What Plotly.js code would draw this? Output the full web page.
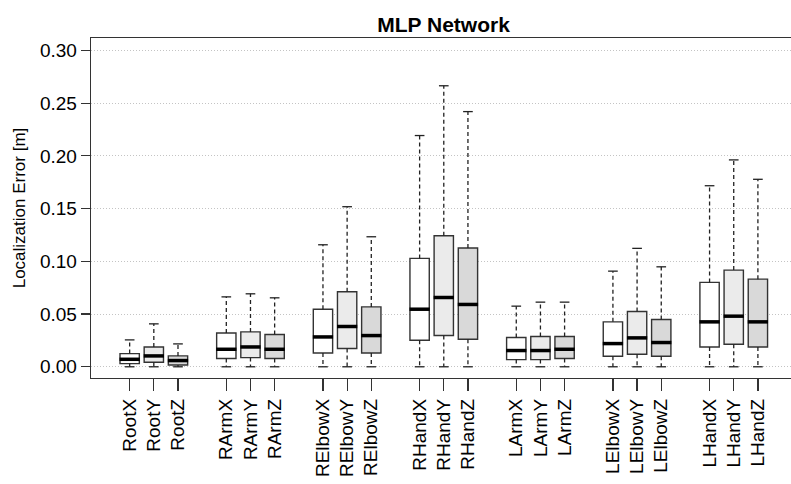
<!DOCTYPE html>
<html>
<head>
<meta charset="utf-8">
<script src="https://cdn.plot.ly/plotly-3.0.1.min.js"></script>
<style>html,body{margin:0;padding:0;background:#fff}</style>
</head>
<body>
<div id="chart" style="width:791px;height:484px"></div>
<script>
// ---- data ----
const categories = ['RootX','RootY','RootZ','RArmX','RArmY','RArmZ','RElbowX','RElbowY','RElbowZ',
  'RHandX','RHandY','RHandZ','LArmX','LArmY','LArmZ','LElbowX','LElbowY','LElbowZ','LHandX','LHandY','LHandZ'];
const whiskerLow = [0,0,0, 0,0,0, 0,0,0, 0,0,0, 0,0,0, 0,0,0, 0,0,0];
const q1 =     [0.0030,0.0043,0.0017, 0.0078,0.0087,0.0078, 0.0131,0.0173,0.0131, 0.0252,0.0296,0.0261, 0.0068,0.0068,0.0078, 0.0100,0.0119,0.0100, 0.0188,0.0214,0.0188];
const median = [0.0071,0.0103,0.0059, 0.0166,0.0188,0.0166, 0.0283,0.0382,0.0296, 0.0546,0.0657,0.0591, 0.0154,0.0154,0.0166, 0.0220,0.0274,0.0230, 0.0426,0.0480,0.0426];
const q3 =     [0.0125,0.0188,0.0103, 0.0321,0.0331,0.0306, 0.0546,0.0711,0.0568, 0.1028,0.1243,0.1126, 0.0277,0.0287,0.0287, 0.0426,0.0524,0.0448, 0.0800,0.0917,0.0831];
const whiskerHigh = [0.0255,0.0407,0.0217, 0.0663,0.0692,0.0654, 0.1157,0.1518,0.1233, 0.2193,0.2665,0.2420, 0.0575,0.0613,0.0613, 0.0907,0.1123,0.0948, 0.1717,0.1962,0.1778];
const yTicks = [0, 0.05, 0.10, 0.15, 0.20, 0.25, 0.30];
const yTickText = ['0.00','0.05','0.10','0.15','0.20','0.25','0.30'];
const fills = ['#FFFFFF', '#EBEBEB', '#D9D9D9'];

// ---- layout helpers ----
const pos = categories.map((c, i) => i + Math.floor(i / 3) + 1);
const boxHalf = 0.4, capHalf = 0.2;
const edge = '#333333';

const traces = [];
// whiskers (dashed) and caps
const wx = [], wy = [], cx = [], cy = [];
pos.forEach((p, i) => {
  wx.push(p, p, null, p, p, null);
  wy.push(q3[i], whiskerHigh[i], null, q1[i], whiskerLow[i], null);
  cx.push(p - capHalf, p + capHalf, null, p - capHalf, p + capHalf, null);
  cy.push(whiskerHigh[i], whiskerHigh[i], null, whiskerLow[i], whiskerLow[i], null);
});
traces.push({type:'scatter', mode:'lines', x:wx, y:wy, line:{color:'#222', width:1.3, dash:'4px,3px'}, hoverinfo:'skip'});
traces.push({type:'scatter', mode:'lines', x:cx, y:cy, line:{color:'#222', width:1.3}, hoverinfo:'skip'});

// boxes, one trace per component (X, Y, Z)
for (let j = 0; j < 3; j++) {
  const idx = categories.map((c, i) => i).filter(i => i % 3 === j);
  traces.push({
    type:'box',
    x: idx.map(i => pos[i]),
    q1: idx.map(i => q1[i]),
    median: idx.map(i => median[i]),
    q3: idx.map(i => q3[i]),
    lowerfence: idx.map(i => q1[i]),
    upperfence: idx.map(i => q3[i]),
    width: 2 * boxHalf,
    whiskerwidth: 0,
    boxpoints: false,
    fillcolor: fills[j],
    line: {color: edge, width: 1.4},
    hoverinfo: 'skip'
  });
}
// thick medians
const mx = [], my = [];
pos.forEach((p, i) => { mx.push(p - boxHalf - 0.02, p + boxHalf + 0.02, null); my.push(median[i], median[i], null); });
traces.push({type:'scatter', mode:'lines', x:mx, y:my, line:{color:'#000', width:3.5}, hoverinfo:'skip'});

const font = 'Liberation Sans, Arial, Helvetica, sans-serif';
const layout = {
  width: 791, height: 484,
  margin: {l: 91, r: 0, t: 38, b: 106, pad: 0},
  showlegend: false,
  paper_bgcolor: '#fff', plot_bgcolor: '#fff',
  font: {family: font, color: '#000'},
  title: {text: '<b>MLP Network</b>', font: {family: font, size: 21, color: '#000'},
          xref: 'paper', x: 0.5036, xanchor: 'center', yref: 'container', y: 0.95, yanchor: 'middle'},
  xaxis: {
    range: [-0.6, 28.37], tickmode: 'array', tickvals: pos, ticktext: categories,
    tickangle: -90, ticks: 'outside', ticklen: 12, tickcolor: edge, tickwidth: 1.2,
    showline: true, linecolor: edge, linewidth: 1.3, mirror: true,
    showgrid: false, zeroline: false, tickfont: {family: font, size: 19, color: '#000'}
  },
  yaxis: {
    range: [-0.01064, 0.3118], tickmode: 'array', tickvals: yTicks, ticktext: yTickText,
    ticks: 'outside', ticklen: 9, tickcolor: edge, tickwidth: 1.2,
    showline: true, linecolor: edge, linewidth: 1.3,
    showgrid: true, gridcolor: '#c4c4c4', griddash: '1px,2px', gridwidth: 1,
    zeroline: false, tickfont: {family: font, size: 19, color: '#000'},
    title: {text: 'Localization Error [m]', font: {family: font, size: 17, color: '#000'}, standoff: 10}
  }
};
Plotly.newPlot('chart', traces, layout, {displayModeBar: false, staticPlot: true});
</script>
</body>
</html>
